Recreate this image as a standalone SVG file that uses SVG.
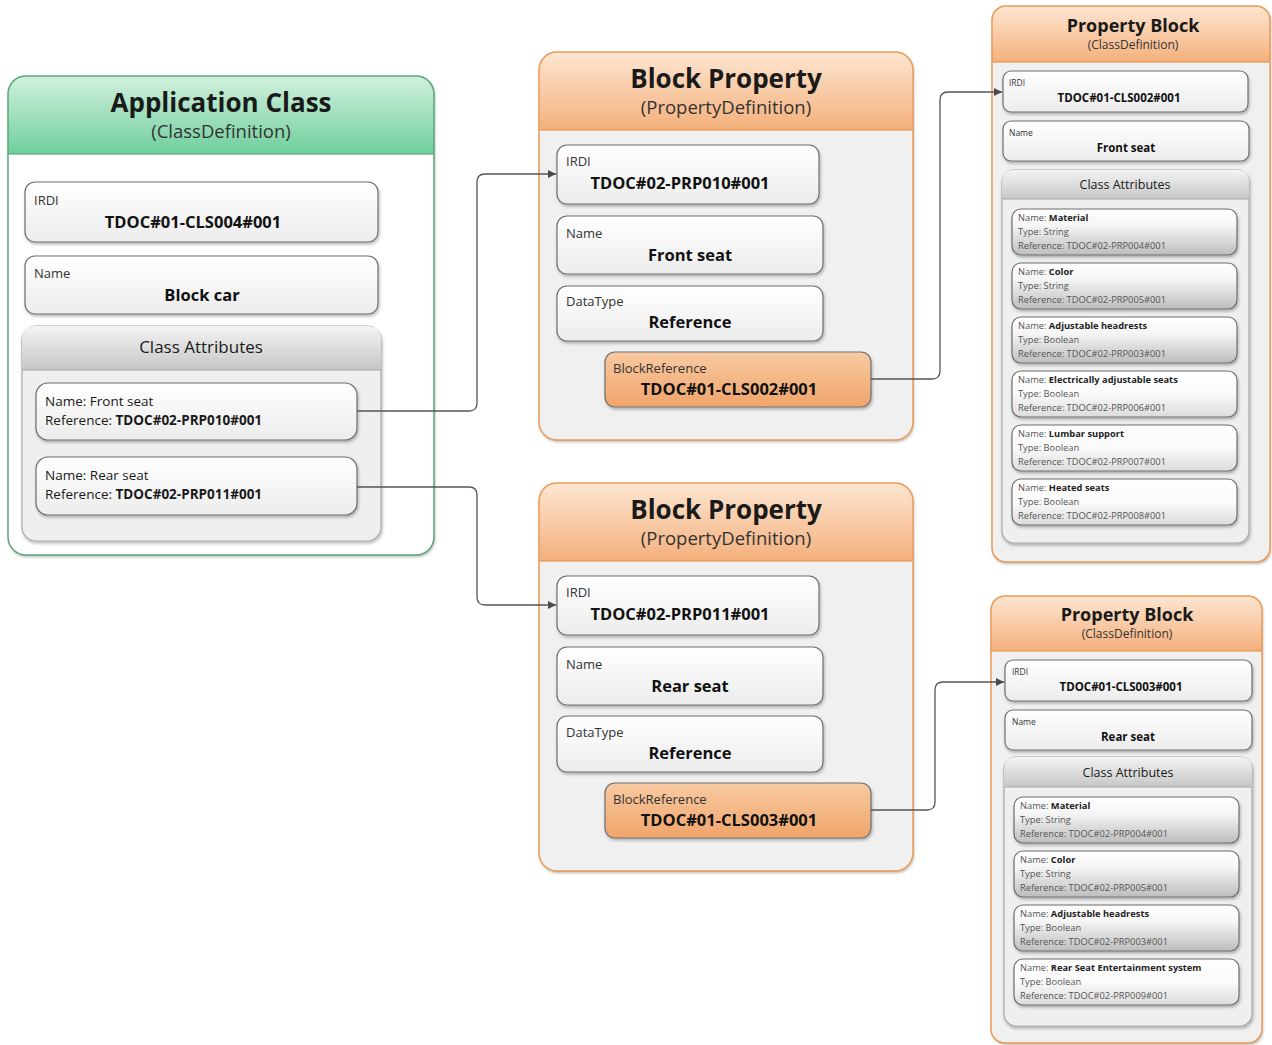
<svg xmlns="http://www.w3.org/2000/svg" width="1272" height="1045" viewBox="0 0 1272 1045" xml:space="preserve">
<defs>
<linearGradient id="gGreen" x1="0" y1="0" x2="0" y2="1"><stop offset="0" stop-color="#d2f0de"/><stop offset="1" stop-color="#6fcf9c"/></linearGradient>
<linearGradient id="gOrange" x1="0" y1="0" x2="0" y2="1"><stop offset="0" stop-color="#fde6d2"/><stop offset="1" stop-color="#f4b07c"/></linearGradient>
<linearGradient id="gOrangeBox" x1="0" y1="0" x2="0" y2="1"><stop offset="0" stop-color="#f8caa2"/><stop offset="1" stop-color="#f0a46a"/></linearGradient>
<linearGradient id="gGrayHead" x1="0" y1="0" x2="0" y2="1"><stop offset="0" stop-color="#f4f4f4"/><stop offset="1" stop-color="#c6c6c6"/></linearGradient>
<linearGradient id="gBox" x1="0" y1="0" x2="0" y2="1"><stop offset="0" stop-color="#ffffff"/><stop offset="1" stop-color="#ececec"/></linearGradient>
<linearGradient id="gAttrDark" x1="0" y1="0" x2="0" y2="1"><stop offset="0" stop-color="#ffffff"/><stop offset="0.35" stop-color="#f6f6f6"/><stop offset="1" stop-color="#bdbdbd"/></linearGradient>
<linearGradient id="gAttrLight" x1="0" y1="0" x2="0" y2="1"><stop offset="0" stop-color="#ffffff"/><stop offset="0.5" stop-color="#fafafa"/><stop offset="1" stop-color="#dcdcdc"/></linearGradient>
<filter id="sh" x="-10%" y="-10%" width="130%" height="150%"><feDropShadow dx="1" dy="2" stdDeviation="1.5" flood-color="#000" flood-opacity="0.28"/></filter>
<marker id="arr" viewBox="0 0 10 10" refX="10" refY="5" markerWidth="8" markerHeight="8" orient="auto" markerUnits="userSpaceOnUse"><path d="M0,0 L10,5 L0,10 Z" fill="#4a4a4a"/></marker>
</defs>
<style>
text{font-family:"Open Sans","Liberation Sans",sans-serif;fill:#1a1a1a}
.title{font-weight:bold;text-anchor:middle}
.sub{text-anchor:middle;fill:#333}
.lbl{fill:#333}
.val{font-weight:bold;text-anchor:middle;fill:#111}
.box{fill:url(#gBox);stroke:#6e6e6e;stroke-width:1.2;filter:url(#sh)}
.obox{fill:url(#gOrangeBox);stroke:#6e6e6e;stroke-width:1.2;filter:url(#sh)}
.attrD{fill:url(#gAttrDark);stroke:#6e6e6e;stroke-width:1.2;filter:url(#sh)}
.attrL{fill:url(#gAttrLight);stroke:#6e6e6e;stroke-width:1.2;filter:url(#sh)}
.cont{fill:#efefef;stroke:#a8a8a8;stroke-width:1.2;filter:url(#sh)}
.ghead{fill:url(#gGrayHead)}
.conn{fill:none;stroke:#555;stroke-width:1.3;marker-end:url(#arr)}
.sm{font-size:9.3px;fill:#555}
.sm tspan.b{font-weight:bold;fill:#222}
</style>
<rect width="1272" height="1045" fill="#ffffff"/>

<g id="app-class">
<rect x="8" y="76" width="426" height="479" rx="18" fill="#ffffff" filter="url(#sh)"/>
<path d="M8,154 V94 Q8,76 26,76 H416 Q434,76 434,94 V154 Z" fill="url(#gGreen)"/>
<line x1="8" y1="154" x2="434" y2="154" stroke="#4e9e70" stroke-width="1.2"/>
<rect x="8" y="76" width="426" height="479" rx="18" fill="none" stroke="#5aa67a" stroke-width="1.5"/>
<text class="title" x="221" y="112" font-size="26">Application Class</text>
<text class="sub" x="221" y="138" font-size="18.5">(ClassDefinition)</text>
<rect class="box" x="25" y="182" width="353" height="60" rx="10"/>
<text class="lbl" x="34" y="205" font-size="13">IRDI</text>
<text class="val" x="193" y="228" font-size="16.5">TDOC#01-CLS004#001</text>
<rect class="box" x="25" y="256" width="353" height="58" rx="10"/>
<text class="lbl" x="34" y="278" font-size="13">Name</text>
<text class="val" x="202" y="301" font-size="16.5">Block car</text>
<rect class="cont" x="22" y="326" width="359" height="215" rx="14"/>
<path d="M22,370 V340 Q22,326 36,326 H367 Q381,326 381,340 V370 Z" class="ghead"/>
<line x1="22" y1="370" x2="381" y2="370" stroke="#a8a8a8" stroke-width="1"/>
<text x="201" y="353" font-size="17" text-anchor="middle" fill="#333">Class Attributes</text>
<rect class="box" x="36" y="383" width="321" height="57" rx="12"/>
<text x="45" y="406" font-size="13.5" fill="#222">Name: Front seat</text>
<text x="45" y="425" font-size="13.5" fill="#222">Reference: <tspan font-weight="bold">TDOC#02-PRP010#001</tspan></text>
<rect class="box" x="36" y="457" width="321" height="58" rx="12"/>
<text x="45" y="480" font-size="13.5" fill="#222">Name: Rear seat</text>
<text x="45" y="499" font-size="13.5" fill="#222">Reference: <tspan font-weight="bold">TDOC#02-PRP011#001</tspan></text>
</g>

<g id="block-property-1">
<rect x="539" y="52" width="374" height="388" rx="18" fill="#f0f0f0" filter="url(#sh)"/>
<path d="M539,130 V70 Q539,52 557,52 H895 Q913,52 913,70 V130 Z" fill="url(#gOrange)"/>
<line x1="539" y1="130" x2="913" y2="130" stroke="#e0893f" stroke-width="1.2"/>
<rect x="539" y="52" width="374" height="388" rx="18" fill="none" stroke="#ec9a55" stroke-width="1.5"/>
<text class="title" x="726" y="88" font-size="26">Block Property</text>
<text class="sub" x="726" y="114" font-size="18.5">(PropertyDefinition)</text>
<rect class="box" x="557" y="145" width="262" height="59" rx="10"/>
<text class="lbl" x="566" y="166" font-size="13">IRDI</text>
<text class="val" x="680" y="189" font-size="16.5">TDOC#02-PRP010#001</text>
<rect class="box" x="557" y="216" width="266" height="58" rx="10"/>
<text class="lbl" x="566" y="238" font-size="13">Name</text>
<text class="val" x="690" y="261" font-size="16.5">Front seat</text>
<rect class="box" x="557" y="286" width="266" height="55" rx="10"/>
<text class="lbl" x="566" y="306" font-size="13">DataType</text>
<text class="val" x="690" y="328" font-size="16.5">Reference</text>
<rect class="obox" x="605" y="352" width="266" height="55" rx="10"/>
<text class="lbl" x="613" y="373" font-size="13">BlockReference</text>
<text class="val" x="729" y="395" font-size="16.5">TDOC#01-CLS002#001</text>
</g>

<g id="block-property-2">
<rect x="539" y="483" width="374" height="388" rx="18" fill="#f0f0f0" filter="url(#sh)"/>
<path d="M539,561 V501 Q539,483 557,483 H895 Q913,483 913,501 V561 Z" fill="url(#gOrange)"/>
<line x1="539" y1="561" x2="913" y2="561" stroke="#e0893f" stroke-width="1.2"/>
<rect x="539" y="483" width="374" height="388" rx="18" fill="none" stroke="#ec9a55" stroke-width="1.5"/>
<text class="title" x="726" y="519" font-size="26">Block Property</text>
<text class="sub" x="726" y="545" font-size="18.5">(PropertyDefinition)</text>
<rect class="box" x="557" y="576" width="262" height="59" rx="10"/>
<text class="lbl" x="566" y="597" font-size="13">IRDI</text>
<text class="val" x="680" y="620" font-size="16.5">TDOC#02-PRP011#001</text>
<rect class="box" x="557" y="647" width="266" height="58" rx="10"/>
<text class="lbl" x="566" y="669" font-size="13">Name</text>
<text class="val" x="690" y="692" font-size="16.5">Rear seat</text>
<rect class="box" x="557" y="716" width="266" height="56" rx="10"/>
<text class="lbl" x="566" y="737" font-size="13">DataType</text>
<text class="val" x="690" y="759" font-size="16.5">Reference</text>
<rect class="obox" x="605" y="783" width="266" height="55" rx="10"/>
<text class="lbl" x="613" y="804" font-size="13">BlockReference</text>
<text class="val" x="729" y="826" font-size="16.5">TDOC#01-CLS003#001</text>
</g>

<g id="property-block-1">
<rect x="992" y="6" width="278" height="556" rx="14" fill="#f0f0f0" filter="url(#sh)"/>
<path d="M992,62 V20 Q992,6 1006,6 H1256 Q1270,6 1270,20 V62 Z" fill="url(#gOrange)"/>
<line x1="992" y1="62" x2="1270" y2="62" stroke="#e0893f" stroke-width="1.2"/>
<rect x="992" y="6" width="278" height="556" rx="14" fill="none" stroke="#ec9a55" stroke-width="1.5"/>
<text class="title" x="1133" y="32" font-size="18">Property Block</text>
<text class="sub" x="1133" y="49" font-size="12">(ClassDefinition)</text>
<rect class="box" x="1003" y="71" width="245" height="41" rx="8"/>
<text class="lbl" x="1009" y="86" font-size="8.5">IRDI</text>
<text class="val" x="1119" y="102" font-size="11.5">TDOC#01-CLS002#001</text>
<rect class="box" x="1003" y="121" width="246" height="40" rx="8"/>
<text class="lbl" x="1009" y="136" font-size="8.5">Name</text>
<text class="val" x="1126" y="152" font-size="11.5">Front seat</text>
<rect class="cont" x="1002" y="170" width="247" height="373" rx="12"/>
<path d="M1002,199 V182 Q1002,170 1014,170 H1237 Q1249,170 1249,182 V199 Z" class="ghead"/>
<line x1="1002" y1="199" x2="1249" y2="199" stroke="#a8a8a8" stroke-width="1"/>
<text x="1125" y="188.5" font-size="12.5" text-anchor="middle" fill="#333">Class Attributes</text>
<rect class="attrD" x="1012" y="209" width="225" height="46" rx="9"/>
<text class="sm" x="1018" y="221">Name: <tspan class="b">Material</tspan></text>
<text class="sm" x="1018" y="235">Type: String</text>
<text class="sm" x="1018" y="249">Reference:  TDOC#02-PRP004#001</text>
<rect class="attrD" x="1012" y="263" width="225" height="46" rx="9"/>
<text class="sm" x="1018" y="275">Name: <tspan class="b">Color</tspan></text>
<text class="sm" x="1018" y="289">Type: String</text>
<text class="sm" x="1018" y="303">Reference:  TDOC#02-PRP005#001</text>
<rect class="attrD" x="1012" y="317" width="225" height="46" rx="9"/>
<text class="sm" x="1018" y="329">Name: <tspan class="b">Adjustable headrests</tspan></text>
<text class="sm" x="1018" y="343">Type: Boolean</text>
<text class="sm" x="1018" y="357">Reference:  TDOC#02-PRP003#001</text>
<rect class="attrL" x="1012" y="371" width="225" height="46" rx="9"/>
<text class="sm" x="1018" y="383">Name: <tspan class="b">Electrically adjustable seats</tspan></text>
<text class="sm" x="1018" y="397">Type: Boolean</text>
<text class="sm" x="1018" y="411">Reference:  TDOC#02-PRP006#001</text>
<rect class="attrL" x="1012" y="425" width="225" height="46" rx="9"/>
<text class="sm" x="1018" y="437">Name: <tspan class="b">Lumbar support</tspan></text>
<text class="sm" x="1018" y="451">Type: Boolean</text>
<text class="sm" x="1018" y="465">Reference:  TDOC#02-PRP007#001</text>
<rect class="attrL" x="1012" y="479" width="225" height="46" rx="9"/>
<text class="sm" x="1018" y="491">Name: <tspan class="b">Heated seats</tspan></text>
<text class="sm" x="1018" y="505">Type: Boolean</text>
<text class="sm" x="1018" y="519">Reference:  TDOC#02-PRP008#001</text>
</g>

<g id="property-block-2">
<rect x="991" y="596" width="271" height="447" rx="14" fill="#f0f0f0" filter="url(#sh)"/>
<path d="M991,651 V610 Q991,596 1005,596 H1248 Q1262,596 1262,610 V651 Z" fill="url(#gOrange)"/>
<line x1="991" y1="651" x2="1262" y2="651" stroke="#e0893f" stroke-width="1.2"/>
<rect x="991" y="596" width="271" height="447" rx="14" fill="none" stroke="#ec9a55" stroke-width="1.5"/>
<text class="title" x="1127" y="621" font-size="18">Property Block</text>
<text class="sub" x="1127" y="638" font-size="12">(ClassDefinition)</text>
<rect class="box" x="1005" y="660" width="247" height="41" rx="8"/>
<text class="lbl" x="1012" y="675" font-size="8.5">IRDI</text>
<text class="val" x="1121" y="691" font-size="11.5">TDOC#01-CLS003#001</text>
<rect class="box" x="1005" y="710" width="247" height="40" rx="8"/>
<text class="lbl" x="1012" y="725" font-size="8.5">Name</text>
<text class="val" x="1128" y="741" font-size="11.5">Rear seat</text>
<rect class="cont" x="1004" y="757" width="248" height="269" rx="12"/>
<path d="M1004,787 V769 Q1004,757 1016,757 H1240 Q1252,757 1252,769 V787 Z" class="ghead"/>
<line x1="1004" y1="787" x2="1252" y2="787" stroke="#a8a8a8" stroke-width="1"/>
<text x="1128" y="776.5" font-size="12.5" text-anchor="middle" fill="#333">Class Attributes</text>
<rect class="attrD" x="1014" y="797" width="225" height="46" rx="9"/>
<text class="sm" x="1020" y="809">Name: <tspan class="b">Material</tspan></text>
<text class="sm" x="1020" y="823">Type: String</text>
<text class="sm" x="1020" y="837">Reference:  TDOC#02-PRP004#001</text>
<rect class="attrD" x="1014" y="851" width="225" height="46" rx="9"/>
<text class="sm" x="1020" y="863">Name: <tspan class="b">Color</tspan></text>
<text class="sm" x="1020" y="877">Type: String</text>
<text class="sm" x="1020" y="891">Reference:  TDOC#02-PRP005#001</text>
<rect class="attrD" x="1014" y="905" width="225" height="46" rx="9"/>
<text class="sm" x="1020" y="917">Name: <tspan class="b">Adjustable headrests</tspan></text>
<text class="sm" x="1020" y="931">Type: Boolean</text>
<text class="sm" x="1020" y="945">Reference:  TDOC#02-PRP003#001</text>
<rect class="attrL" x="1014" y="959" width="225" height="46" rx="9"/>
<text class="sm" x="1020" y="971">Name: <tspan class="b">Rear Seat Entertainment system</tspan></text>
<text class="sm" x="1020" y="985">Type: Boolean</text>
<text class="sm" x="1020" y="999">Reference:  TDOC#02-PRP009#001</text>
</g>

<g id="connectors">
<path class="conn" d="M357,411 H469 Q477,411 477,403 V182 Q477,174 485,174 H556"/>
<path class="conn" d="M357,487 H469 Q477,487 477,495 V597 Q477,605 485,605 H556"/>
<path class="conn" d="M871,379 H932 Q940,379 940,371 V100 Q940,92 948,92 H1002"/>
<path class="conn" d="M871,810 H927 Q935,810 935,802 V690 Q935,682 943,682 H1004"/>
</g>
</svg>
